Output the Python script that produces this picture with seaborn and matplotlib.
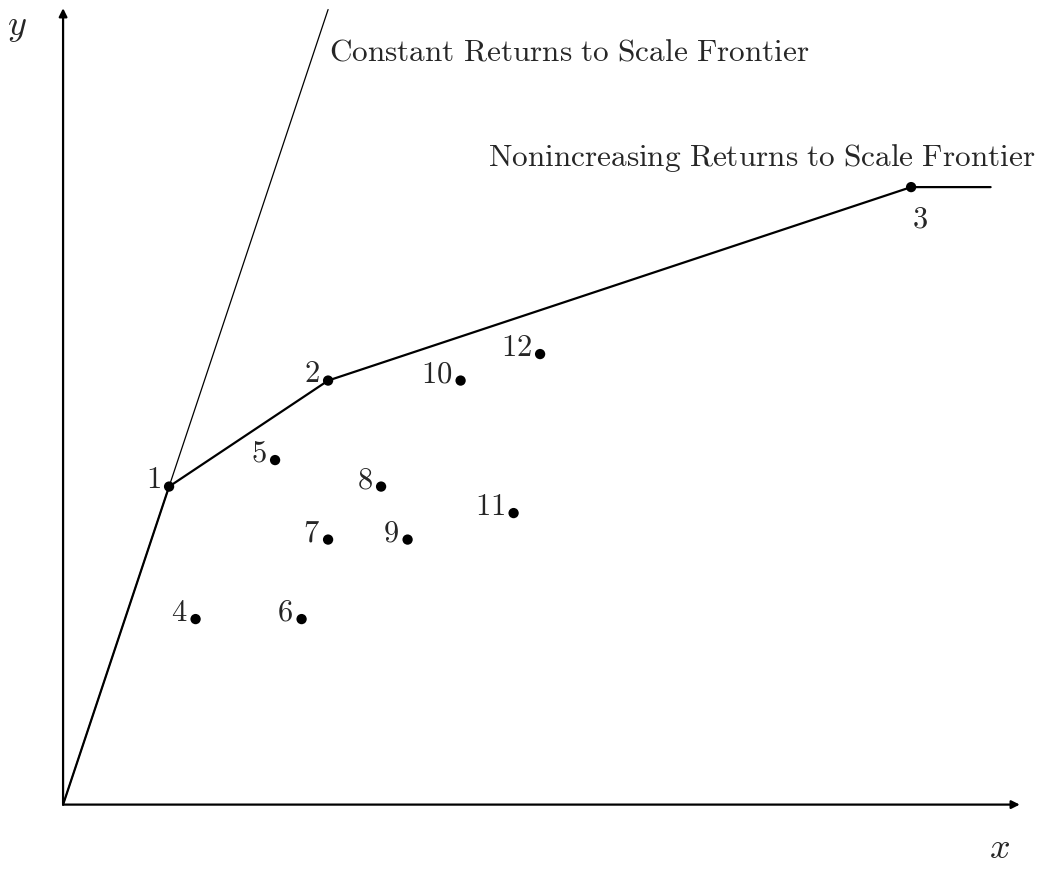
import matplotlib
matplotlib.use("Agg")
import matplotlib.pyplot as plt
import seaborn as sns
import pandas as pd

sns.set_theme(style="white")
plt.rcParams.update({
    "mathtext.fontset": "cm",
    "font.family": ["DejaVu Serif"],
})

# ── data ──────────────────────────────────────────────────────────────────────
dmu_labels = ["1", "2", "3", "4", "5", "6", "7", "8", "9", "10", "11", "12"]
dmu_x = [4, 10, 32, 5, 8, 9, 10, 12, 13, 15, 17, 18]
dmu_y = [12, 16, 23.3, 7, 13, 7, 10, 12, 10, 16, 11, 17]

crs_x = [0, 10]
crs_y = [0, 30]

nirs_x = [0, 4, 10, 32, 35]
nirs_y = [0, 12, 16, 23.3, 23.3]

pts = pd.DataFrame({"x": dmu_x, "y": dmu_y, "label": dmu_labels})

# ── figure ────────────────────────────────────────────────────────────────────
fig = plt.figure(figsize=(10.46, 8.69), dpi=100)
ax = fig.add_axes([0, 0, 1, 1])
ax.set_xlim(-2.38, 37.09)
ax.set_ylim(-2.43, 30.36)
ax.axis("off")

# axes with arrows
ax.annotate("", xy=(36.1, 0), xytext=(0, 0),
            arrowprops=dict(arrowstyle="-|>", color="black", lw=1.6,
                            mutation_scale=12, shrinkA=0, shrinkB=0))
ax.annotate("", xy=(0, 30.05), xytext=(0, 0),
            arrowprops=dict(arrowstyle="-|>", color="black", lw=1.6,
                            mutation_scale=12, shrinkA=0, shrinkB=0))

# frontiers
sns.lineplot(x=crs_x, y=crs_y, sort=False, color="black", lw=0.9, ax=ax)
sns.lineplot(x=nirs_x, y=nirs_y, sort=False, color="black", lw=1.6, ax=ax)

# DMUs
sns.scatterplot(data=pts, x="x", y="y", color="black", s=55,
                edgecolor="none", zorder=5, ax=ax)

for _, r in pts.iterrows():
    if r["label"] == "3":
        ax.annotate(f"${r['label']}$", (r["x"], r["y"]), xytext=(6, -23),
                    textcoords="offset points", ha="center", va="center",
                    fontsize=22)
    else:
        ax.annotate(f"${r['label']}$", (r["x"], r["y"]), xytext=(-6, 5),
                    textcoords="offset points", ha="right", va="center",
                    fontsize=22)

ax.text(10.05, 28.4, r"$\mathrm{Constant\ Returns\ to\ Scale\ Frontier}$",
        fontsize=22.5, ha="left", va="center")
ax.text(36.7, 24.4, r"$\mathrm{Nonincreasing\ Returns\ to\ Scale\ Frontier}$",
        fontsize=22.5, ha="right", va="center")

ax.text(35.35, -1.65, r"$x$", fontsize=26, ha="center", va="center")
ax.text(-1.75, 29.35, r"$y$", fontsize=26, ha="center", va="center")

fig.savefig("out.png", dpi=100)
